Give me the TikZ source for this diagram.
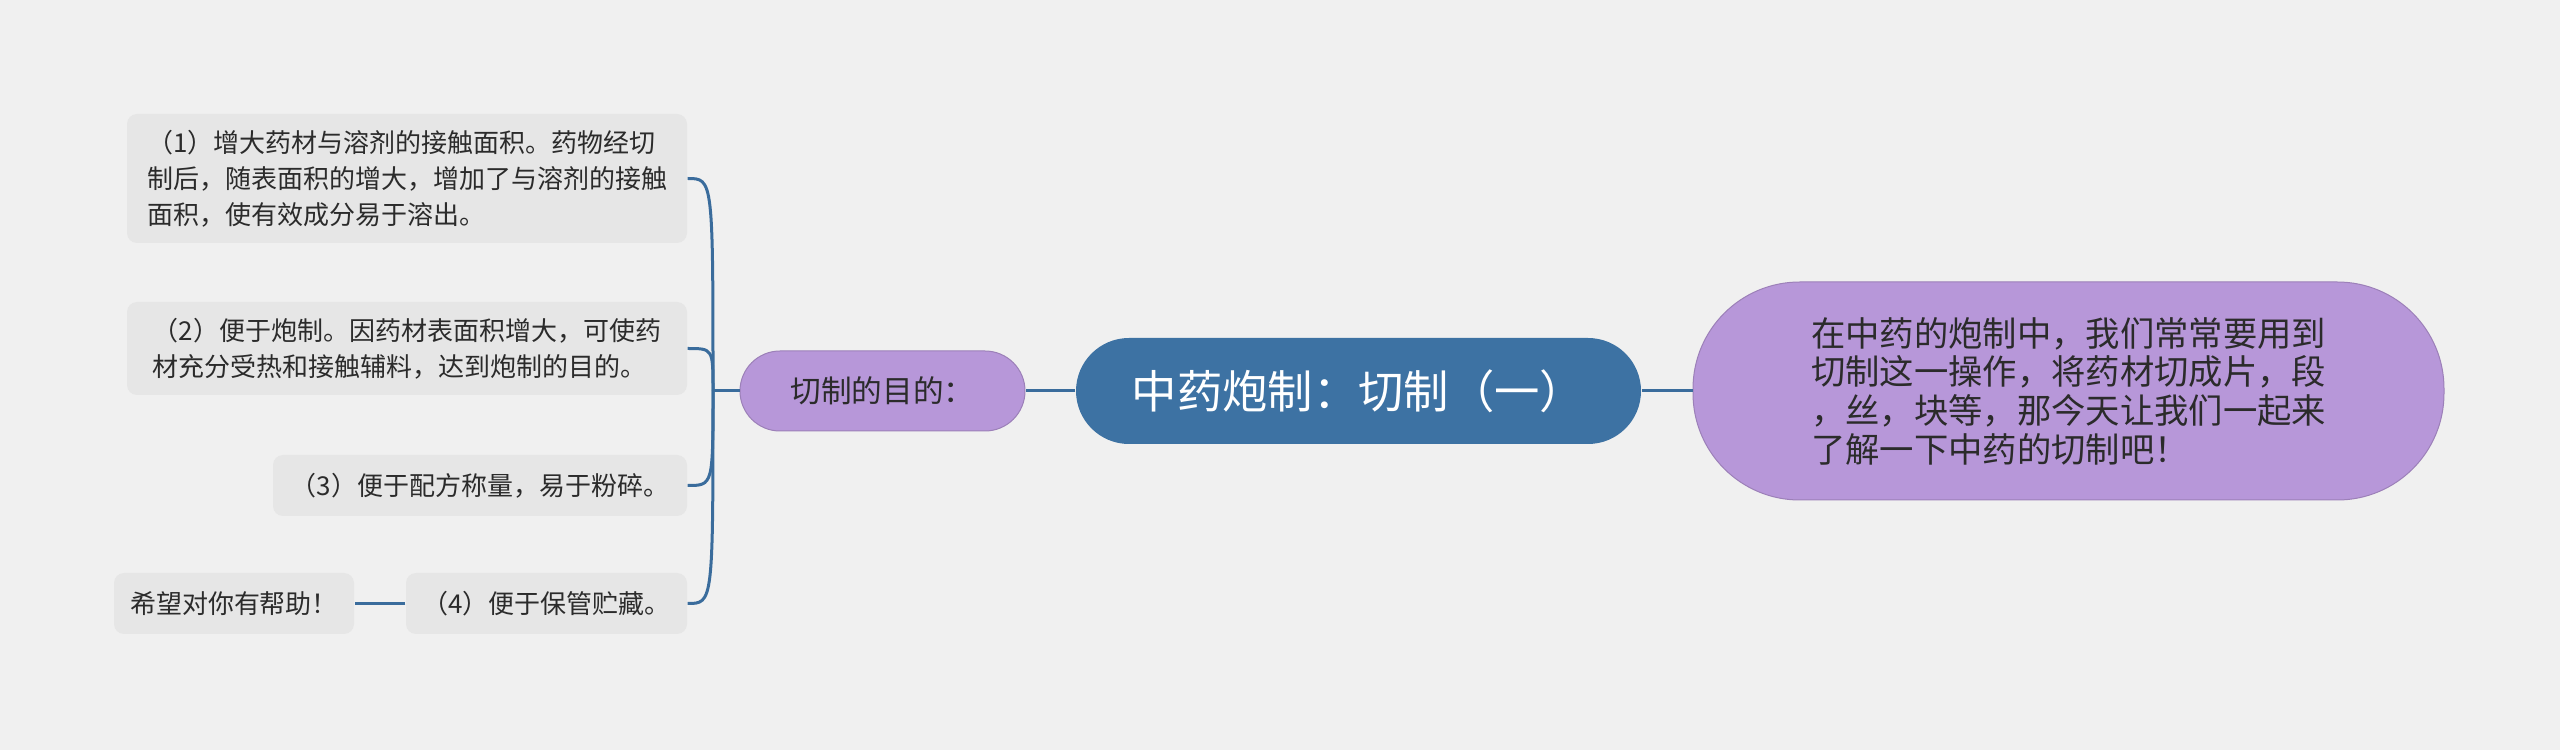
\documentclass[tikz,border=0pt]{standalone}
\usepackage{fontspec}
\setmainfont{Noto Sans CJK SC}
\definecolor{bgc}{HTML}{F0F0F0}
\definecolor{boxc}{HTML}{E6E6E6}
\definecolor{bluec}{HTML}{3D72A3}
\definecolor{purc}{HTML}{B797D9}
\definecolor{linec}{HTML}{3A6C9C}
\definecolor{txt}{HTML}{2B2B2B}
\begin{document}
\begin{tikzpicture}[x=0.3pt,y=-0.3pt,
  leaf/.style={fill=boxc, rounded corners=3pt, text=txt, align=left, inner sep=0pt,
    font=\fontsize{7.8}{10.8}\selectfont},
  pill/.style={fill=purc, draw=purc!85!black, line width=0.3pt, text=txt, align=left, inner sep=0pt},
  conn/.style={draw=linec, line width=0.9pt}]
\fill[bgc] (0,0) rectangle (2560,750);
\useasboundingbox (0,0) rectangle (2560,750);

\node[fill=bluec, rounded corners=15.9pt, text=white, inner sep=0pt,
  minimum width=169.5pt, minimum height=31.8pt, font=\fontsize{13.6}{15}\selectfont]
  (root) at (1358.5,391) {中药炮制：切制（一）};

\node[pill, rounded corners=32pt, minimum width=225.3pt, minimum height=65.4pt,
  font=\fontsize{10.3}{11.6}\selectfont] (intro) at (2068.5,391)
  {在中药的炮制中，我们常常要用到\\切制这一操作，将药材切成片，段\\，丝，块等，那今天让我们一起来\\了解一下中药的切制吧！};

\node[pill, rounded corners=12pt, minimum width=85.5pt, minimum height=24pt,
  font=\fontsize{9.2}{11}\selectfont] (mid) at (882.5,391) {切制的目的：};

\node[leaf, minimum width=168pt, minimum height=38.7pt] (b1) at (407,178.5)
  {（1）增大药材与溶剂的接触面积。药物经切\\制后，随表面积的增大，增加了与溶剂的接触\\面积，使有效成分易于溶出。};
\node[leaf, minimum width=168pt, minimum height=27.9pt] (b2) at (407,348.5)
  {（2）便于炮制。因药材表面积增大，可使药\\材充分受热和接触辅料，达到炮制的目的。};
\node[leaf, minimum width=124.2pt, minimum height=18.3pt] (b3) at (480,485.5)
  {（3）便于配方称量，易于粉碎。};
\node[leaf, minimum width=84.3pt, minimum height=18.3pt] (b4) at (546.5,603.5)
  {（4）便于保管贮藏。};
\node[leaf, minimum width=72pt, minimum height=18.3pt] (wish) at (234,603.5)
  {希望对你有帮助！};

\coordinate (tr) at (713,391);
\draw[conn] (root.east) -- (intro.west);
\draw[conn] (root.west) -- (mid.east);
\draw[conn] (mid.west) -- (tr);
\foreach \b in {b1,b2,b3,b4}{
  \draw[conn] (tr) .. controls (tr |- \b.east) .. (\b.east);
}
\draw[conn] (b4.west) -- (wish.east);
\end{tikzpicture}
\end{document}
